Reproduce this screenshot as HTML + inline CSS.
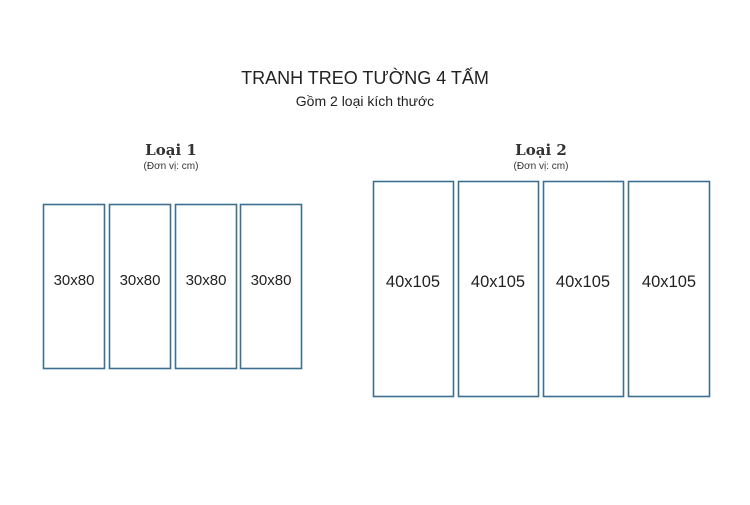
<!DOCTYPE html>
<html><head><style>body{margin:0;background:#fff}</style></head><body>
<svg width="750" height="500" xmlns="http://www.w3.org/2000/svg" font-family="Liberation Sans, DejaVu Sans, sans-serif">
<rect width="750" height="500" fill="#fff"/>
<text x="365" y="84" text-anchor="middle" font-size="18" fill="#222">TRANH TREO TƯỜNG 4 TẤM</text>
<text x="365" y="106" text-anchor="middle" font-size="14" fill="#222">Gồm 2 loại kích thước</text>
<text x="171" y="155" text-anchor="middle" font-size="15" font-weight="bold" font-family="DejaVu Serif, Liberation Serif, serif" fill="#333">Loại 1</text>
<text x="171" y="169" text-anchor="middle" font-size="10" fill="#333">(Đơn vị: cm)</text>
<text x="541" y="155" text-anchor="middle" font-size="15" font-weight="bold" font-family="DejaVu Serif, Liberation Serif, serif" fill="#333">Loại 2</text>
<text x="541" y="169" text-anchor="middle" font-size="10" fill="#333">(Đơn vị: cm)</text>
<g fill="none" stroke="#3d6f90" stroke-width="1.6">
<rect x="43.5" y="204.5" width="61" height="164"/>
<rect x="109.5" y="204.5" width="61" height="164"/>
<rect x="175.5" y="204.5" width="61" height="164"/>
<rect x="240.5" y="204.5" width="61" height="164"/>
<rect x="373.5" y="181.5" width="80" height="215"/>
<rect x="458.5" y="181.5" width="80" height="215"/>
<rect x="543.5" y="181.5" width="80" height="215"/>
<rect x="628.5" y="181.5" width="81" height="215"/>
</g>
<g font-size="15" fill="#222" text-anchor="middle">
<text x="74" y="285">30x80</text>
<text x="140" y="285">30x80</text>
<text x="206" y="285">30x80</text>
<text x="271" y="285">30x80</text>
<text x="413" y="287" font-size="16.5">40x105</text>
<text x="498" y="287" font-size="16.5">40x105</text>
<text x="583" y="287" font-size="16.5">40x105</text>
<text x="669" y="287" font-size="16.5">40x105</text>
</g>
</svg>
</body></html>
